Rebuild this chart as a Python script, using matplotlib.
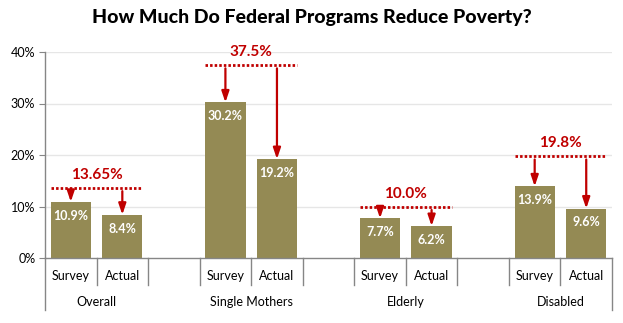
import matplotlib
matplotlib.use("Agg")
import matplotlib.pyplot as plt
from matplotlib import transforms

plt.rcParams['font.family'] = ['Lato', 'DejaVu Sans']

# Data
groups = ["Overall", "Single Mothers", "Elderly", "Disabled"]
series = ["Survey", "Actual"]
survey_rates = [10.9, 30.2, 7.7, 13.9]
actual_rates = [8.4, 19.2, 6.2, 9.6]
reduction_labels = ["13.65%", "37.5%", "10.0%", "19.8%"]
reduction_values = [13.65, 37.5, 10.0, 19.8]
y_ticks = [0, 10, 20, 30, 40]

BAR = "#948A54"
RED = "#C00000"
GRID = "#E6E6E6"
AXIS = "#868686"

fig = plt.figure(figsize=(6.23, 3.23), dpi=100)
W, H = 623, 323
ax_left, ax_right, ax_top, ax_bottom = 45, 612, 52, 258
ax = fig.add_axes([ax_left / W, (H - ax_bottom) / H,
                   (ax_right - ax_left) / W, (ax_bottom - ax_top) / H])
ax_h = ax_bottom - ax_top

n_slots = 11
bar_w = 0.78
positions = []
for g in range(len(groups)):
    positions.append((3 * g, 3 * g + 1))

ax.set_xlim(-0.5, n_slots - 0.5)
ax.set_ylim(0, 40)

for g, (ps, pa) in enumerate(positions):
    ax.bar([ps, pa], [survey_rates[g], actual_rates[g]], width=bar_w,
           color=BAR, zorder=3)
    for x, v in ((ps, survey_rates[g]), (pa, actual_rates[g])):
        ax.annotate(f"{v:.1f}%", xy=(x, v), xytext=(0, -10),
                    textcoords="offset points", ha="center", va="center",
                    color="white", fontsize=9, fontweight="bold", zorder=5)
    # Reduction marker: dotted level line, label and arrows down to the bars
    lvl = reduction_values[g]
    ax.plot([ps - bar_w / 2, pa + bar_w / 2], [lvl, lvl], color=RED,
            lw=2.0, linestyle=(0, (0.9, 0.75)), solid_capstyle="butt",
            dash_capstyle="butt", zorder=4, clip_on=False)
    ax.annotate(reduction_labels[g], xy=((ps + pa) / 2, lvl), xytext=(0, 4),
                textcoords="offset points", ha="center", va="bottom",
                color=RED, fontsize=11, fontweight="bold",
                annotation_clip=False)
    for x, v in ((ps, survey_rates[g]), (pa, actual_rates[g])):
        ax.annotate("", xy=(x, v), xytext=(x, lvl),
                    arrowprops=dict(arrowstyle="-|>,head_length=0.65,head_width=0.22",
                                    color=RED, lw=1.6, shrinkA=2.5, shrinkB=0),
                    annotation_clip=False, zorder=4)

# Axes styling
for s in ("top", "right", "bottom"):
    ax.spines[s].set_visible(False)
ax.spines["left"].set_color(AXIS)
ax.spines["left"].set_linewidth(1.0)
ax.set_yticks(y_ticks)
ax.set_yticklabels([f"{t}%" for t in y_ticks], fontsize=9)
ax.tick_params(axis="y", length=4, color=AXIS, pad=3)
ax.set_xticks([])
for t in y_ticks[1:]:
    ax.axhline(t, color=GRID, lw=1.0, zorder=1)
ax.axhline(0, color=AXIS, lw=1.0, zorder=4, clip_on=False)

# Multi-level category axis drawn below the plot
tr = transforms.blended_transform_factory(ax.transData, ax.transAxes)
short = -27 / ax_h
long_ = -52 / ax_h
for k in range(n_slots + 1):
    xb = k - 0.5
    bottom = long_ if k in (0, n_slots) else short
    ax.plot([xb, xb], [0, bottom], color=AXIS, lw=1.0, transform=tr,
            clip_on=False)
for g, (ps, pa) in enumerate(positions):
    for x, name in ((ps, series[0]), (pa, series[1])):
        ax.text(x, -18 / ax_h, name, transform=tr, ha="center", va="center",
                fontsize=9)
    ax.text((ps + pa) / 2, -44 / ax_h, groups[g], transform=tr, ha="center",
            va="center", fontsize=9)

fig.text(0.5, 1 - 17 / H, "How Much Do Federal Programs Reduce Poverty?",
         ha="center", va="center", fontsize=14, fontweight="black")

fig.savefig("out.png", dpi=100)
